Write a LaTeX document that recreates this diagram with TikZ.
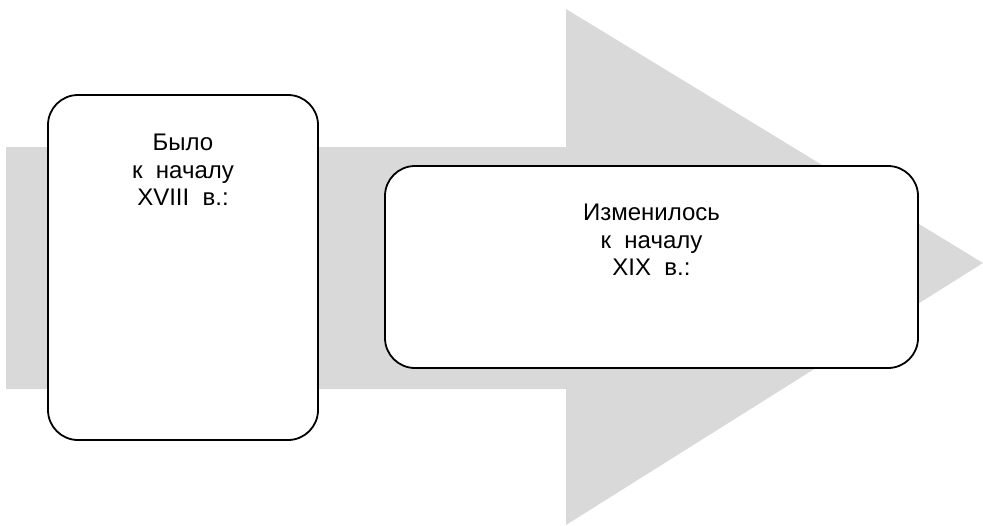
\documentclass[tikz,border=0pt]{standalone}
\usepackage{fontspec}
\setmainfont{Liberation Sans}
\usetikzlibrary{positioning}
\definecolor{arrowgray}{HTML}{D9D9D9}
\tikzset{
  stagebox/.style={draw,line width=1.8pt,rounded corners=30pt,fill=white,inner sep=0pt},
  stagetext/.style={align=center,inner sep=0pt,font=\fontsize{24}{27.7}\selectfont}
}
\begin{document}
\begin{tikzpicture}[x=1pt,y=-1pt]
  \useasboundingbox (0,0) rectangle (983,525);
  \fill[arrowgray] (6,147) -- (566,147) -- (566,9) -- (983,263) -- (566,525) -- (566,389) -- (6,389) -- cycle;
  \node[stagebox,minimum width=270pt,minimum height=345pt] (before) at (183,267.5) {};
  \node[stagetext,below=39.5pt of before.north] (beforetext) {Было\\к~~началу\\XVIII~~в.:};
  \node[stagebox,minimum width=533pt,minimum height=202pt] (after) at (651.5,267) {};
  \node[stagetext,below=38.5pt of after.north] (aftertext) {Изменилось\\к~~началу\\XIX~~в.:};
\end{tikzpicture}
\end{document}
